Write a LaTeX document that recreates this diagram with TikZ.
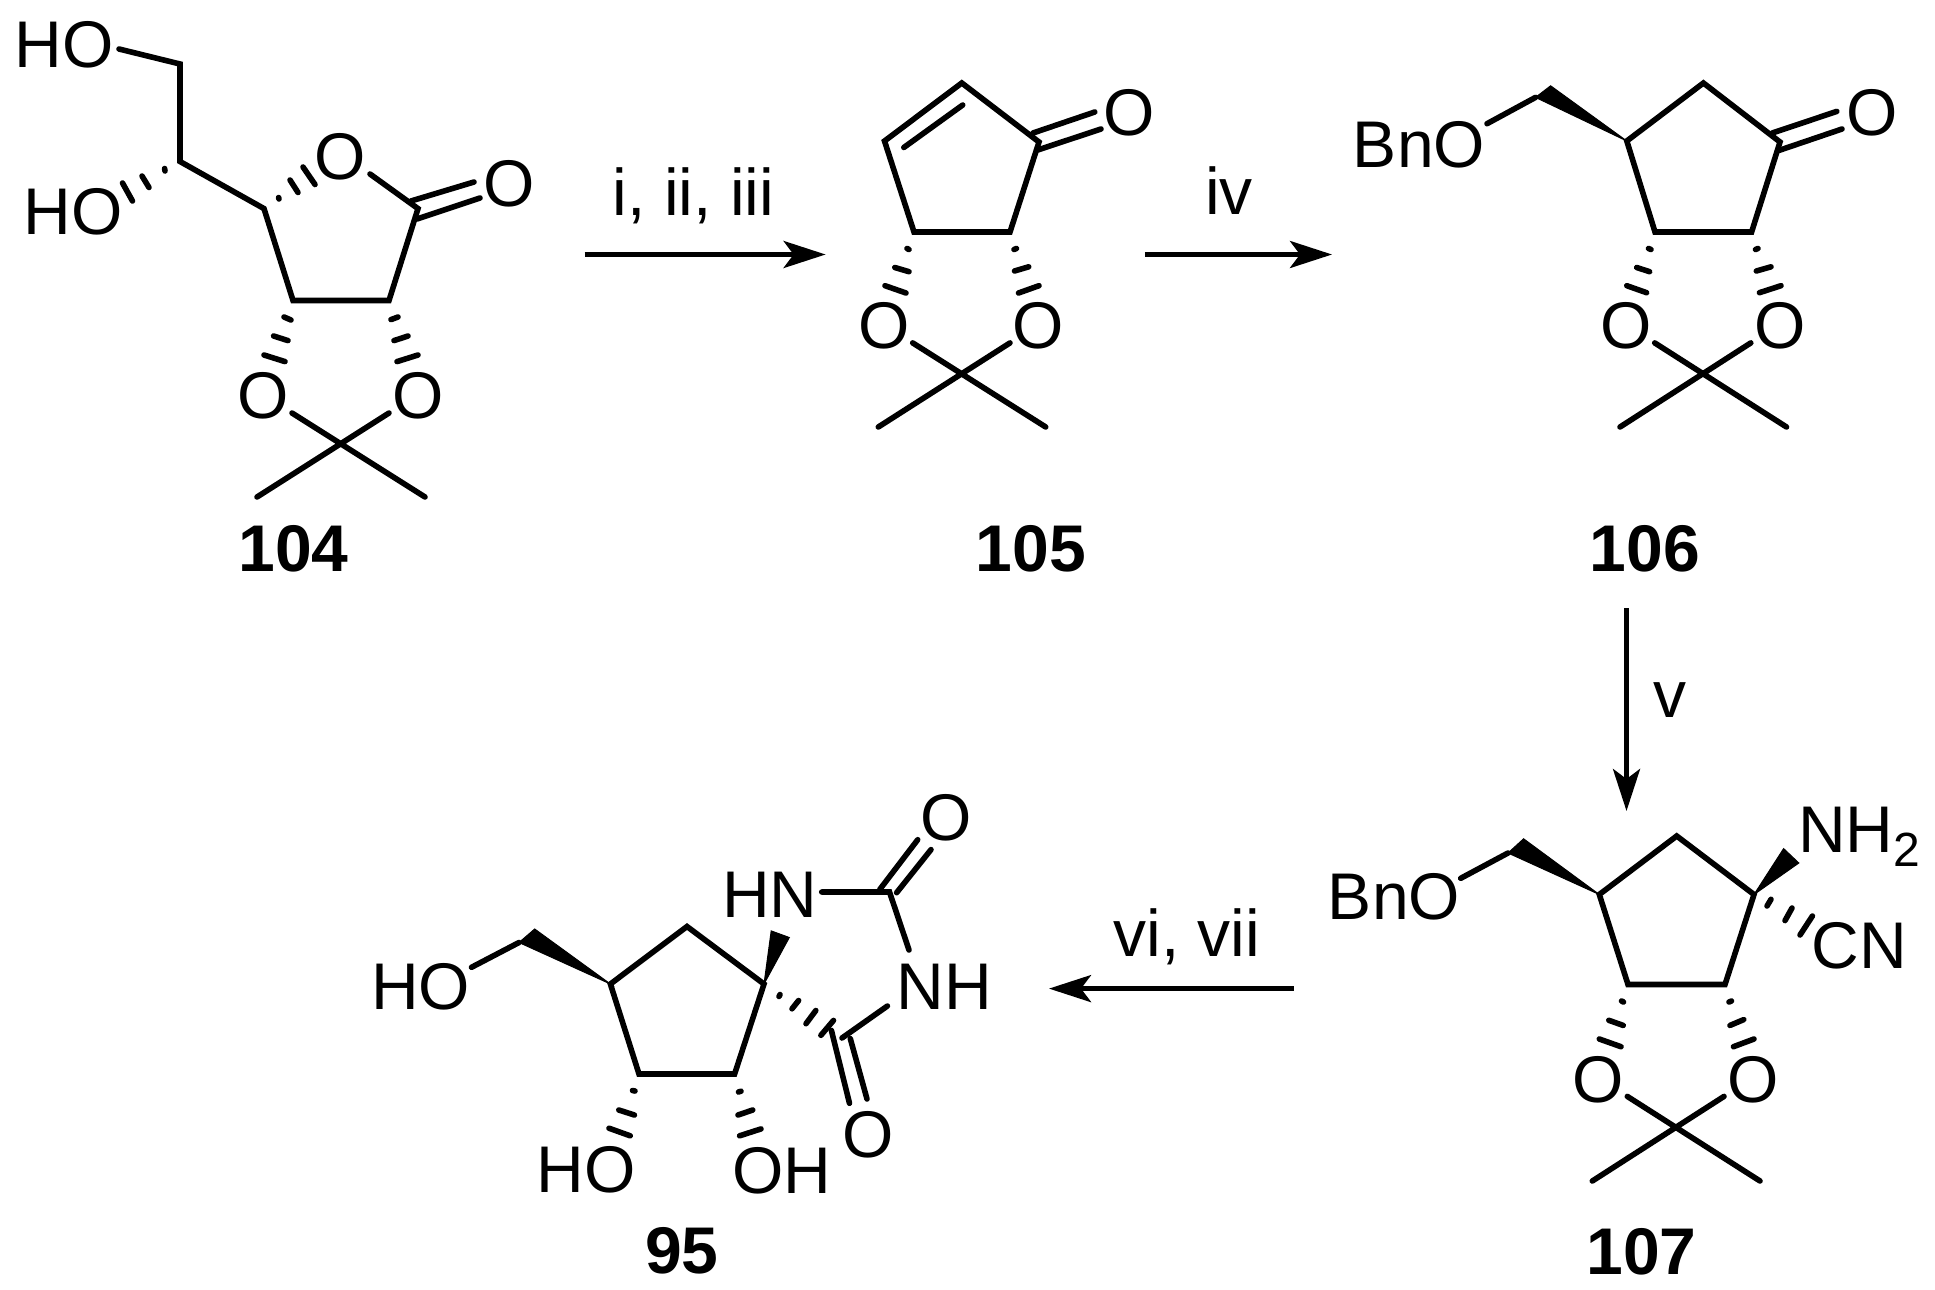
\documentclass[tikz,border=0pt]{standalone}
\usepackage{fontspec}
\setmainfont{Liberation Sans}
\usetikzlibrary{arrows.meta}
\newcommand{\atomfont}{\fontsize{66}{72}\selectfont}
\tikzset{
  bond/.style={line width=5.6pt,line cap=round,line join=miter,black},
  hashb/.style={line width=5.6pt,line cap=round,black},
  wedgeb/.style={fill=black,draw=black,line width=1pt,line join=miter},
  rxn/.style={line width=4.8pt,black,-{Stealth[length=42pt,width=27pt,inset=10pt]}},
  atom/.style={inner sep=0pt,font=\atomfont,text=black},
  basetext/.style={inner sep=0pt,font=\atomfont,text=black,anchor=base},
  cmpd/.style={inner sep=0pt,font=\atomfont\bfseries,text=black},
}
\begin{document}
\begin{tikzpicture}[x=1pt,y=-1pt]
\fill[white] (0,0) rectangle (1935,1290);
\useasboundingbox (0,0) rectangle (1935,1290);

% ---------- 104 ----------
\node[atom] (a-ho1) at (64,45) {HO};
\node[atom] (a-ho2) at (73,212) {HO};
\node[atom] (a-or) at (340.6,157) {O};
\node[atom] (a-oc) at (509,184) {O};
\node[atom] (a-ol) at (263,396) {O};
\node[atom] (a-orr) at (418,396) {O};
\node[cmpd] (a-lab) at (293.5,548.5) {104};
\coordinate (a0) at (119,49);
\coordinate (a1) at (180,64);
\coordinate (a2) at (180,161.5);
\coordinate (a3) at (264,208.6);
\coordinate (a4) at (293,300.5);
\coordinate (a5) at (389,300.5);
\coordinate (a6) at (418,208.6);
\coordinate (a7) at (370,174);
\coordinate (ak) at (340.6,448.5);
\coordinate (akl) at (292,413);
\coordinate (akr) at (389,413);
\coordinate (am1) at (257,497);
\coordinate (am2) at (425,497);
\coordinate (ad1) at (411,201);
\coordinate (ad2) at (474,182);
\coordinate (ad3) at (417,219);
\coordinate (ad4) at (480,198);
\draw[bond] (a0)--(a1)--(a2)--(a3)--(a4)--(a5)--(a6)--(a7);
\draw[bond] (ad1)--(ad2) (ad3)--(ad4);
\draw[bond] (akl)--(am2) (akr)--(am1);
\draw[hashb] (278.6,197.5)--(279,199) (290,180)--(298,192.5) (303,167)--(315,184.5);
\draw[hashb] (164.6,168.5)--(165,171) (142,176)--(149,187.5) (122.5,183)--(132.5,201);
\draw[hashb] (284,317)--(291,320) (273.6,336)--(288,340.6) (264,355)--(285,361.6);
\draw[hashb] (391,319.6)--(398,317) (394,340.6)--(408,336) (397,361.6)--(418,355);

% ---------- arrow 1 ----------
\coordinate (r1s) at (584.5,254.5);
\coordinate (r1e) at (825.6,254.5);
\draw[rxn] (r1s)--(r1e);
\node[basetext] (r1t) at (693.5,215.6) {i, ii, iii};

% ---------- 105 ----------
\node[atom] (b-oc) at (1129,113) {O};
\node[atom] (b-ol) at (883.7,325.5) {O};
\node[atom] (b-or) at (1038.6,325.5) {O};
\node[cmpd] (b-lab) at (1031,549) {105};
\coordinate (b1) at (961.8,83);
\coordinate (b2) at (884.5,141);
\coordinate (b3) at (914,232);
\coordinate (b4) at (1010,232);
\coordinate (b5) at (1039,142);
\coordinate (bi1) at (903.8,147.5);
\coordinate (bi2) at (962.7,105);
\coordinate (bd1) at (1033,133);
\coordinate (bd2) at (1094.8,112);
\coordinate (bd3) at (1037.7,150);
\coordinate (bd4) at (1101,129);
\coordinate (bk) at (961.8,378.7);
\coordinate (bkl) at (912.7,342.9);
\coordinate (bkr) at (1010,342.9);
\coordinate (bm1) at (878.3,427);
\coordinate (bm2) at (1045.7,427);
\draw[bond] (b1)--(b2)--(b3)--(b4)--(b5)--cycle;
\draw[bond] (bi1)--(bi2);
\draw[bond] (bd1)--(bd2) (bd3)--(bd4);
\draw[bond] (bkl)--(bm2) (bkr)--(bm1);
\draw[hashb] (907,248.5)--(909,249.5) (894.8,267.5)--(909,271.7) (885,285.7)--(906,293);
\draw[hashb] (1014,249.5)--(1016.5,248.5) (1014.5,271)--(1028.7,266.8) (1018.5,293)--(1039,285.7);

% ---------- arrow 2 ----------
\coordinate (r2s) at (1144.8,254.5);
\coordinate (r2e) at (1332,254.5);
\draw[rxn] (r2s)--(r2e);
\node[basetext] (r2t) at (1229,214) {iv};

% ---------- 106 ----------
\node[atom] (c-bn) at (1419,144.5) {BnO};
\node[atom] (c-oc) at (1872,113) {O};
\node[atom] (c-ol) at (1626,325.5) {O};
\node[atom] (c-or) at (1780,325.5) {O};
\node[cmpd] (c-lab) at (1645,549) {106};
\coordinate (c1) at (1703.4,83);
\coordinate (c2) at (1626.8,141);
\coordinate (c3) at (1655,232);
\coordinate (c4) at (1751.6,232);
\coordinate (c5) at (1780,142);
\coordinate (cw1) at (1535.5,97.4);
\coordinate (cw2) at (1550.6,85.8);
\coordinate (cb0) at (1487,123.7);
\coordinate (cd1) at (1772.3,133);
\coordinate (cd2) at (1836.8,111.4);
\coordinate (cd3) at (1778.7,150.5);
\coordinate (cd4) at (1842,129);
\coordinate (ck) at (1703.4,378.7);
\coordinate (ckl) at (1654.7,342.9);
\coordinate (ckr) at (1750.8,342.9);
\coordinate (cm1) at (1620,427);
\coordinate (cm2) at (1786.5,427);
\draw[bond] (c1)--(c2)--(c3)--(c4)--(c5)--cycle;
\fill[wedgeb] (c2)--(cw1)--(cw2)--cycle;
\draw[bond] (cb0)--(cw1);
\draw[bond] (cd1)--(cd2) (cd3)--(cd4);
\draw[bond] (ckl)--(cm2) (ckr)--(cm1);
\draw[hashb] (1648.5,248.5)--(1651,249.5) (1636.7,267.5)--(1649.6,271.7) (1626.8,285.7)--(1646.6,292.7);
\draw[hashb] (1755.5,249.5)--(1758,248.5) (1756.3,271)--(1771,266.8) (1759.4,292.7)--(1781,285.7);

% ---------- arrow 3 ----------
\coordinate (r3s) at (1626.5,608);
\coordinate (r3e) at (1626.5,811);
\draw[rxn] (r3s)--(r3e);
\node[basetext] (r3t) at (1670,717) {v};

% ---------- 107 ----------
\node[atom] (d-bn) at (1394,897) {BnO};
\node[atom] (d-cn) at (1859.5,946) {CN};
\node[basetext,anchor=base west] (d-nh) at (1798,852) {NH\raisebox{-14.5pt}{\fontsize{48}{52}\selectfont 2}};
\node[atom] (d-ol) at (1598.5,1079.5) {O};
\node[atom] (d-or) at (1753.6,1079.5) {O};
\node[cmpd] (d-lab) at (1641.5,1252) {107};
\coordinate (d1) at (1676.7,836);
\coordinate (d2) at (1599.3,894.5);
\coordinate (d3) at (1628,984.5);
\coordinate (d4) at (1725,984.5);
\coordinate (d5) at (1754,894.5);
\coordinate (dw1) at (1508,853);
\coordinate (dw2) at (1523.6,838.8);
\coordinate (db0) at (1460.7,878.3);
\coordinate (dn1) at (1783.6,848.6);
\coordinate (dn2) at (1798.8,863);
\coordinate (dk) at (1676.7,1132.5);
\coordinate (dkl) at (1627.3,1096.4);
\coordinate (dkr) at (1724,1096.4);
\coordinate (dm1) at (1592.3,1181);
\coordinate (dm2) at (1760,1181);
\draw[bond] (d1)--(d2)--(d3)--(d4)--(d5)--cycle;
\fill[wedgeb] (d2)--(dw1)--(dw2)--cycle;
\fill[wedgeb] (d5)--(dn1)--(dn2)--cycle;
\draw[bond] (db0)--(dw1);
\draw[bond] (dkl)--(dm2) (dkr)--(dm1);
\draw[hashb] (1767,906)--(1771,899.3) (1785,920.6)--(1792,908) (1800,935)--(1812.4,916);
\draw[hashb] (1621.5,1001)--(1623.5,1002) (1608.8,1020.3)--(1623.2,1025.4) (1599.3,1039)--(1621,1046.7);
\draw[hashb] (1729,1002)--(1731.5,1001) (1730,1025.4)--(1743.7,1019.6) (1733.4,1046.7)--(1754,1039);

% ---------- arrow 4 ----------
\coordinate (r4s) at (1293.6,988.6);
\coordinate (r4e) at (1049,988.6);
\draw[rxn] (r4s)--(r4e);
\node[basetext] (r4t) at (1187,956.5) {vi, vii};

% ---------- 95 ----------
\node[atom] (e-ho) at (420.5,986.5) {HO};
\node[atom] (e-hn) at (769.7,895) {HN};
\node[atom] (e-nh) at (944,987) {NH};
\node[atom] (e-ot) at (945.9,818) {O};
\node[atom] (e-ob) at (868,1135) {O};
\node[atom] (e-ho2) at (586,1170) {HO};
\node[atom] (e-oh) at (782,1171) {OH};
\node[cmpd] (e-lab) at (682,1251) {95};
\coordinate (e1) at (687,926.5);
\coordinate (e2) at (610.4,984);
\coordinate (e3) at (639,1074);
\coordinate (e4) at (734.6,1074);
\coordinate (e5) at (764,984);
\coordinate (ew1) at (519,942.5);
\coordinate (ew2) at (534.7,929);
\coordinate (eb0) at (471.5,967.3);
\coordinate (en1) at (771.2,930.9);
\coordinate (en2) at (789.3,937.5);
\coordinate (ec1a) at (821.7,892);
\coordinate (ec1) at (889.5,892);
\coordinate (ec1b) at (909,950);
\coordinate (et1) at (879.8,889.4);
\coordinate (et2) at (917.7,839.7);
\coordinate (et3) at (896.6,892.7);
\coordinate (et4) at (931,849.6);
\coordinate (en3) at (887.4,1006);
\coordinate (ec2) at (842,1038);
\coordinate (eb1) at (831.4,1030.4);
\coordinate (eb2) at (849.5,1103.3);
\coordinate (eb3) at (850.3,1038.6);
\coordinate (eb4) at (867,1099);
\draw[bond] (e1)--(e2)--(e3)--(e4)--(e5)--cycle;
\fill[wedgeb] (e2)--(ew1)--(ew2)--cycle;
\fill[wedgeb] (e5)--(en1)--(en2)--cycle;
\draw[bond] (eb0)--(ew1);
\draw[bond] (ec1a)--(ec1)--(ec1b);
\draw[bond] (et1)--(et2) (et3)--(et4);
\draw[bond] (en3)--(ec2);
\draw[bond] (eb1)--(eb2) (eb3)--(eb4);
\draw[hashb] (779,996.5)--(780,994.5) (792,1008.8)--(798.6,1000.5) (806,1023.7)--(815.8,1010.5) (820.9,1035.3)--(833.5,1020.4);
\draw[hashb] (632.5,1090.5)--(635,1091) (618.8,1110)--(634.4,1115) (609,1128.2)--(630.2,1135.8);
\draw[hashb] (738.5,1092)--(741,1091.2) (738,1115)--(752.7,1110) (739.6,1135.8)--(761,1128.9);
\end{tikzpicture}
\end{document}
